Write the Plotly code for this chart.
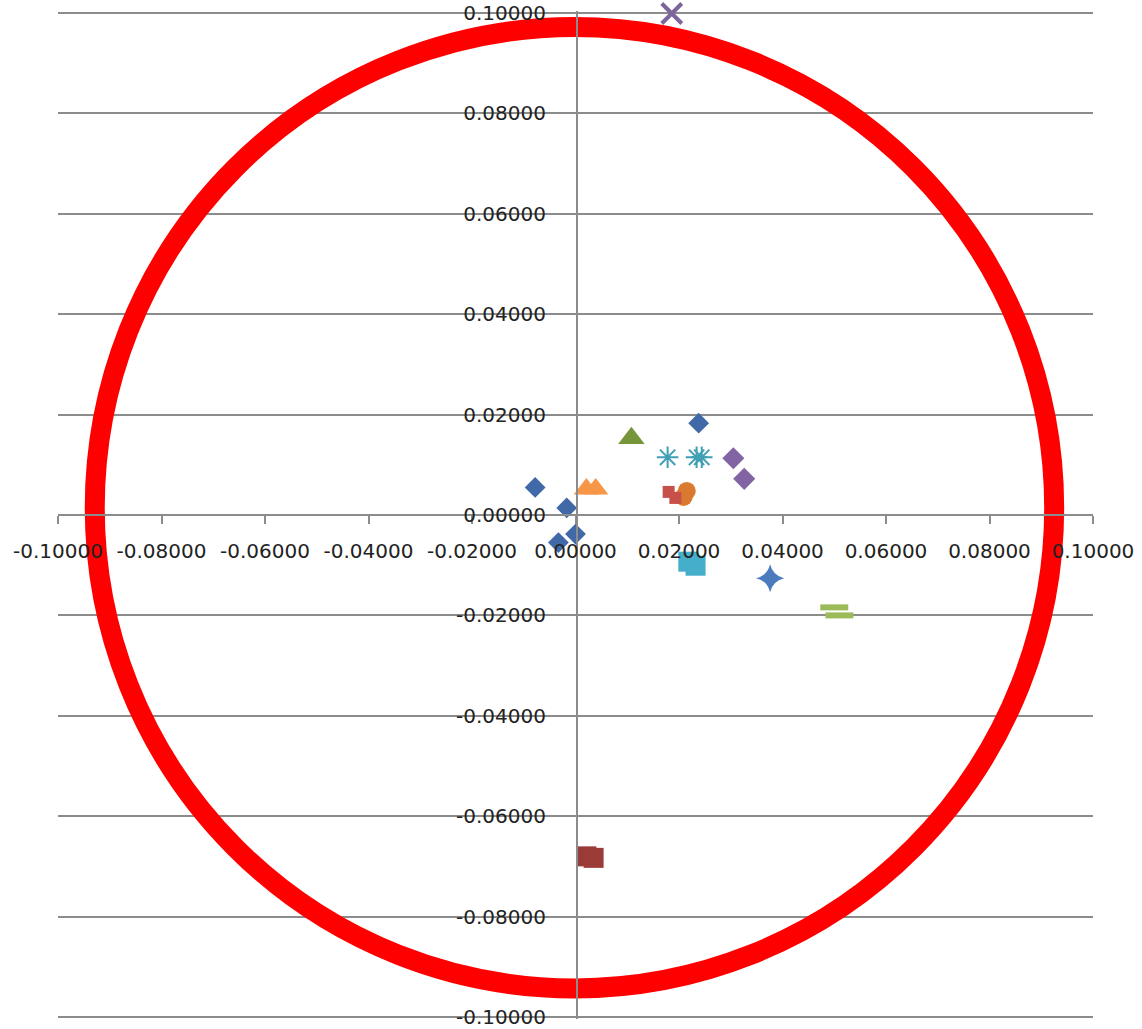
import plotly.graph_objects as go

# ---- data ----
blue_diamond_x = [0.0238, -0.0078, -0.0017, 0.0000, -0.0033]
blue_diamond_y = [0.0183, 0.0055, 0.0014, -0.0038, -0.0055]

darkred_square_x = [0.0021, 0.0035]
darkred_square_y = [-0.0680, -0.0683]

green_triangle_x = [0.0108]
green_triangle_y = [0.0153]

purple_x_x = [0.0186]
purple_x_y = [0.0999]

teal_star_x = [0.0178, 0.0234, 0.0244]
teal_star_y = [0.0115, 0.0115, 0.0115]

orange_circle_x = [0.0215, 0.0209]
orange_circle_y = [0.0048, 0.0036]

blue_star_x = [0.0376]
blue_star_y = [-0.0126]

red_square_x = [0.0180, 0.0193]
red_square_y = [0.0046, 0.0034]

purple_diamond_x = [0.0305, 0.0326]
purple_diamond_y = [0.0113, 0.0072]

orange_triangle_x = [0.0021, 0.0039]
orange_triangle_y = [0.0052, 0.0052]

teal_square_x = [0.0218, 0.0232]
teal_square_y = [-0.0093, -0.0101]

green_dash_x = [0.0500, 0.0510]
green_dash_y = [-0.0184, -0.0200]

tick_vals = [-0.1, -0.08, -0.06, -0.04, -0.02, 0.0, 0.02, 0.04, 0.06, 0.08, 0.1]
tick_text = ["-0.10000", "-0.08000", "-0.06000", "-0.04000", "-0.02000", "0.00000",
             "0.02000", "0.04000", "0.06000", "0.08000", "0.10000"]

# ---- figure ----
fig = go.Figure()

def add(x, y, symbol, color, size, lw=0, lc=None):
    fig.add_trace(go.Scatter(
        x=x, y=y, mode="markers", cliponaxis=False,
        marker=dict(symbol=symbol, color=color, size=size,
                    line=dict(width=lw, color=lc if lc else color)),
        showlegend=False, hoverinfo="x+y"))

add(blue_diamond_x, blue_diamond_y, "diamond", "#4169A8", 16)
add(darkred_square_x, darkred_square_y, "square", "#9B3B38", 20)
add(green_triangle_x, green_triangle_y, "triangle-up", "#77963B", 23)
add(purple_x_x, purple_x_y, "x-thin-open", "#7B6699", 20, 4)
add(teal_star_x, teal_star_y, "asterisk-open", "#3FA0B5", 18, 2)
add(orange_circle_x, orange_circle_y, "circle", "#DA7A30", 18)
add(blue_star_x, blue_star_y, "star-diamond", "#4A7CBE", 20)
add(red_square_x, red_square_y, "square", "#C8504A", 12)
add(purple_diamond_x, purple_diamond_y, "diamond", "#8264A4", 17)
add(orange_triangle_x, orange_triangle_y, "triangle-up", "#F79646", 22)
add(teal_square_x, teal_square_y, "square", "#45AECB", 20)
add(green_dash_x, green_dash_y, "line-ew-open", "#9BBB59", 20, 6)

# red circle annotation
fig.add_shape(type="circle", xref="x", yref="y",
              x0=-0.0929, x1=0.0925, y0=-0.0943, y1=0.0972,
              line=dict(color="#FF0000", width=20), layer="between")

axis_font = dict(family="DejaVu Sans", size=20, color="#222222")

fig.update_layout(
    width=1142, height=1029,
    margin=dict(l=58, r=49, t=11, b=10),
    paper_bgcolor="white", plot_bgcolor="white",
    xaxis=dict(range=[-0.1, 0.1], anchor="free", position=0.5, automargin=False,
               showgrid=False, zeroline=False,
               showline=True, linecolor="#8C8C8C", linewidth=2,
               ticks="outside", ticklen=8, tickwidth=2, tickcolor="#8C8C8C",
               tickvals=tick_vals, ticktext=tick_text,
               tickfont=axis_font, ticklabelstandoff=10),
    yaxis=dict(range=[-0.1004, 0.1004], anchor="free", position=0.5014, automargin=False,
               showgrid=True, gridcolor="#8C8C8C", gridwidth=2,
               zeroline=False,
               showline=True, linecolor="#8C8C8C", linewidth=2,
               ticks="",
               tickvals=tick_vals, ticktext=tick_text,
               tickfont=axis_font, ticklabelstandoff=26),
)

fig.write_html("out.html",
               config={"displayModeBar": False},
               post_script="document.body.style.margin='0';document.body.style.padding='0';")
